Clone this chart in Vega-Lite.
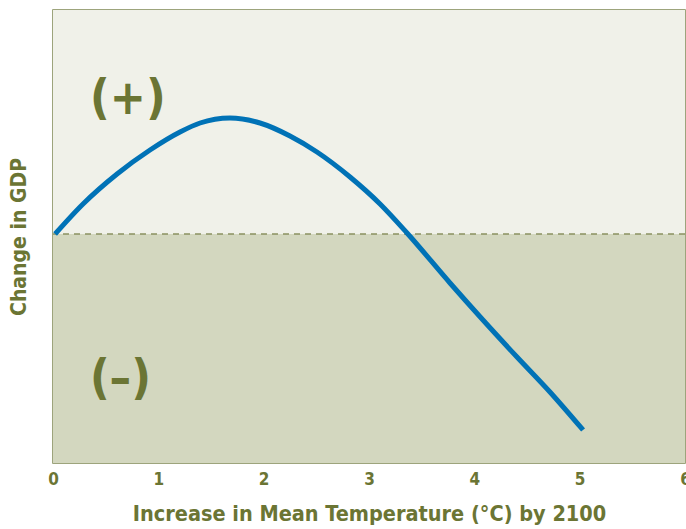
{
  "$schema": "https://vega.github.io/schema/vega-lite/v6.json",
  "width": 632,
  "height": 453,
  "autosize": "none",
  "padding": {"left": 53, "top": 10, "right": 1, "bottom": 66},
  "background": "white",
  "config": {
    "view": {"stroke": "#7d8752", "strokeWidth": 1.5},
    "font": "DejaVu Sans Condensed"
  },
  "datasets": {
    "curve": [
      {"temp": 0.02, "gdp": 0.0},
      {"temp": 0.285, "gdp": 0.30},
      {"temp": 0.608, "gdp": 0.60},
      {"temp": 0.921, "gdp": 0.84},
      {"temp": 1.206, "gdp": 1.02},
      {"temp": 1.396, "gdp": 1.11},
      {"temp": 1.68, "gdp": 1.16},
      {"temp": 1.965, "gdp": 1.11},
      {"temp": 2.25, "gdp": 0.98},
      {"temp": 2.506, "gdp": 0.82},
      {"temp": 2.82, "gdp": 0.57},
      {"temp": 3.105, "gdp": 0.30},
      {"temp": 3.361, "gdp": 0.01},
      {"temp": 3.769, "gdp": -0.49},
      {"temp": 4.082, "gdp": -0.86},
      {"temp": 4.405, "gdp": -1.23},
      {"temp": 4.718, "gdp": -1.58},
      {"temp": 5.032, "gdp": -1.96}
    ],
    "bands": [
      {"x1": 0, "x2": 6, "y1": 0, "y2": 2.24, "zone": "positive"},
      {"x1": 0, "x2": 6, "y1": -2.29, "y2": 0, "zone": "negative"}
    ],
    "labels": [
      {"temp": 0.71, "gdp": 1.34, "text": "(+)"},
      {"temp": 0.64, "gdp": -1.46, "text": "(–)"}
    ]
  },
  "layer": [
    {
      "data": {"name": "bands"},
      "mark": {"type": "rect"},
      "encoding": {
        "x": {"field": "x1", "type": "quantitative", "scale": {"domain": [0, 6], "nice": false},
          "axis": {"values": [0,1,2,3,4,5,6], "format": "d", "ticks": false, "domain": false, "grid": false,
            "labelFont": "DejaVu Sans Condensed", "labelFontWeight": "bold", "labelFontSize": 17,
            "labelColor": "#6b7534", "labelPadding": 8, "labelFlush": false,
            "title": "Increase in Mean Temperature (°C) by 2100",
            "titleFont": "DejaVu Sans Condensed", "titleFontWeight": "bold", "titleFontSize": 21.5,
            "titleColor": "#6b7534", "titlePadding": 16}},
        "x2": {"field": "x2"},
        "y": {"field": "y1", "type": "quantitative", "scale": {"domain": [-2.29, 2.24], "nice": false, "zero": false},
          "axis": {"labels": false, "ticks": false, "domain": false, "grid": false,
            "title": "Change in GDP",
            "titleFont": "DejaVu Sans Condensed", "titleFontWeight": "bold", "titleFontSize": 21,
            "titleColor": "#6b7534", "titlePadding": 24}},
        "y2": {"field": "y2"},
        "color": {"field": "zone", "type": "nominal",
          "scale": {"domain": ["positive", "negative"], "range": ["#f0f1e9", "#d3d7bf"]}, "legend": null}
      }
    },
    {
      "data": {"values": [{"gdp": 0}]},
      "mark": {"type": "rule", "color": "#8a9160", "strokeWidth": 1.5, "strokeDash": [6, 5]},
      "encoding": {"y": {"field": "gdp", "type": "quantitative"}}
    },
    {
      "data": {"name": "curve"},
      "mark": {"type": "line", "color": "#0072b6", "strokeWidth": 5, "interpolate": "monotone"},
      "encoding": {
        "x": {"field": "temp", "type": "quantitative"},
        "y": {"field": "gdp", "type": "quantitative"}
      }
    },
    {
      "data": {"name": "labels"},
      "mark": {"type": "text", "font": "DejaVu Sans Condensed", "fontWeight": "bold", "fontSize": 48, "color": "#6b7534", "baseline": "middle", "align": "center"},
      "encoding": {
        "x": {"field": "temp", "type": "quantitative"},
        "y": {"field": "gdp", "type": "quantitative"},
        "text": {"field": "text"}
      }
    }
  ]
}
